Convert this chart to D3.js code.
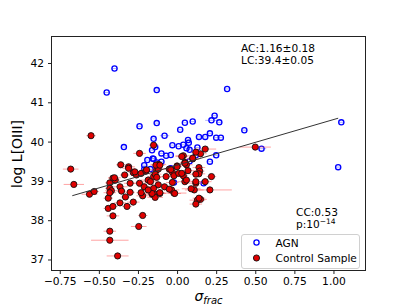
<!DOCTYPE html>
<html>
<head>
<meta charset="utf-8">
<script src="https://cdn.jsdelivr.net/npm/d3@7"></script>
<style>
body { margin: 0; background: #fff; }
text { font-family: "DejaVu Sans", sans-serif; }
</style>
</head>
<body>
<svg id="chart" width="407" height="305"></svg>
<script>
const svg = d3.select("#chart");

// AGN sample
const agnX = [-0.40, -0.45, -0.13, 0.32, -0.24, -0.13, 0.05, 0.10, 0.24, 0.22,
    0.27, 0.43, 1.05, 0.02, -0.08, -0.15, 0.07, 0.075, 0.14, 0.18,
    0.21, 0.25, 0.28, -0.34, -0.03, 0.01, 0.04, 0.06, 0.08, 0.13,
    -0.14, -0.16, -0.155, -0.10, -0.07, -0.04, -0.13, -0.10, 0.08, 0.12,
    0.21, 0.25, 0.17, -0.02, -0.31, -0.21, -0.19, -0.15, -0.21, -0.17,
    -0.04, 0.54, 1.03];
const agnY = [41.86, 41.25, 41.31, 41.34, 40.39, 40.47, 40.48, 40.51, 40.66, 40.54,
    40.49, 40.29, 40.49, 40.30, 40.15, 40.07, 40.04, 39.97, 40.12, 40.12,
    40.21, 40.10, 40.10, 39.86, 39.91, 39.88, 39.92, 39.83, 39.79, 39.85,
    39.86, 39.78, 39.57, 39.70, 39.64, 39.66, 39.47, 39.49, 39.50, 39.65,
    39.49, 39.65, 38.94, 38.96, 39.34, 39.40, 39.53, 39.56, 39.29, 39.30,
    39.32, 39.82, 39.35];
const agnErr = [0.02, 0.02, 0.02, 0.02, 0.02, 0.02, 0.02, 0.02, 0.02, 0.04,
    0.02, 0.02, 0.02, 0.02, 0.03, 0.02, 0.02, 0.02, 0.02, 0.02,
    0.02, 0.02, 0.02, 0.02, 0.02, 0.02, 0.02, 0.02, 0.02, 0.02,
    0.02, 0.02, 0.02, 0.02, 0.02, 0.02, 0.02, 0.02, 0.02, 0.02,
    0.02, 0.02, 0.02, 0.02, 0.02, 0.02, 0.02, 0.02, 0.02, 0.02,
    0.02, 0.03, 0.02];

// control sample
const ctrlX = [-0.55, -0.24, -0.15, -0.68, -0.66, -0.36, -0.31, -0.56, -0.53, -0.44,
    -0.43, -0.41, -0.43, -0.42, -0.395, -0.365, -0.355, -0.335, -0.30, -0.28,
    -0.26, -0.23, -0.20, -0.185, -0.15, -0.13, -0.12, -0.24, -0.30, -0.43,
    -0.44, -0.41, -0.365, -0.32, -0.33, -0.28, -0.41, -0.22, -0.245, -0.43,
    -0.43, -0.38, -0.22, -0.23, -0.16, -0.14, -0.14, -0.11, -0.02, 0.11,
    0.21, 0.15, 0.13, 0.12, 0.18, 0.15, 0.12, 0.10, 0.04, 0.05,
    0.06, 0.00, -0.05, -0.03, -0.02, -0.12, -0.14, -0.13, -0.07, -0.03,
    0.04, 0.07, 0.14, 0.145, 0.14, 0.22, 0.05, 0.12, -0.12, -0.15,
    -0.16, -0.11, -0.035, -0.015, 0.09, 0.14, 0.50, -0.27, -0.195, -0.17,
    -0.21, -0.185, -0.08, -0.05, -0.04, 0.01, 0.03, 0.05, 0.03, 0.10,
    0.12, 0.06, 0.12, 0.18, 0.00, -0.31, -0.135, -0.11, -0.40];
const ctrlY = [40.15, 39.70, 39.91, 39.30, 38.91, 39.41, 39.36, 38.66, 38.73, 38.56,
    38.95, 39.07, 38.81, 38.75, 39.02, 38.85, 38.74, 39.15, 38.94, 39.21,
    39.15, 39.19, 39.25, 39.02, 39.11, 39.28, 39.42, 38.94, 38.71, 38.70,
    38.30, 38.35, 38.44, 38.35, 38.59, 38.46, 38.11, 38.12, 37.84, 37.72,
    37.49, 37.09, 38.62, 38.70, 38.66, 38.66, 38.58, 38.68, 38.69, 38.77,
    38.77, 38.53, 38.51, 38.41, 39.81, 39.69, 39.73, 39.56, 39.64, 39.47,
    39.41, 39.38, 39.30, 39.22, 39.13, 39.30, 39.17, 39.09, 39.11, 38.96,
    39.13, 39.26, 39.34, 39.25, 39.18, 39.11, 38.98, 38.94, 38.90, 38.81,
    38.68, 38.70, 38.77, 38.68, 38.80, 38.56, 39.86, 39.23, 39.28, 38.98,
    38.85, 38.77, 38.85, 38.79, 39.29, 39.19, 39.19, 39.45, 39.62, 39.58,
    39.17, 39.02, 38.98, 38.98, 39.36, 39.32, 39.40, 39.40, 39.08];
const ctrlErr = [0.03, 0.04, 0.03, 0.05, 0.065, 0.03, 0.04, 0.05, 0.03, 0.03,
    0.03, 0.03, 0.03, 0.04, 0.03, 0.05, 0.03, 0.03, 0.04, 0.03,
    0.03, 0.04, 0.03, 0.05, 0.04, 0.03, 0.05, 0.04, 0.03, 0.04,
    0.03, 0.03, 0.04, 0.03, 0.03, 0.04, 0.04, 0.03, 0.05, 0.04,
    0.12, 0.07, 0.04, 0.03, 0.04, 0.03, 0.05, 0.04, 0.08, 0.06,
    0.14, 0.04, 0.05, 0.04, 0.07, 0.04, 0.03, 0.04, 0.05, 0.03,
    0.04, 0.03, 0.05, 0.04, 0.03, 0.03, 0.04, 0.03, 0.05, 0.04,
    0.03, 0.05, 0.04, 0.03, 0.04, 0.03, 0.05, 0.06, 0.04, 0.03,
    0.04, 0.03, 0.05, 0.04, 0.06, 0.04, 0.10, 0.03, 0.04, 0.05,
    0.04, 0.03, 0.04, 0.03, 0.03, 0.05, 0.04, 0.03, 0.04, 0.03,
    0.04, 0.03, 0.03, 0.04, 0.03, 0.04, 0.03, 0.03, 0.04];

const xTicks = [-0.75, -0.50, -0.25, 0.00, 0.25, 0.50, 0.75, 1.00];
const yTicks = [37, 38, 39, 40, 41, 42];

// linear fit: y = LC + AC * x
const fitAC = 1.16, fitLC = 39.4;
const fitXRange = [-0.67, 1.03];

const pLeft = 51, pRight = 366, pTop = 36, pBottom = 271;

const x = d3.scaleLinear().domain([-0.806, 1.208]).range([pLeft, pRight]);
const y = d3.scaleLinear().domain([36.707, 42.687]).range([pBottom, pTop]);

const agn = agnX.map((d, i) => ({x: d, y: agnY[i], e: agnErr[i]}));
const ctrl = ctrlX.map((d, i) => ({x: d, y: ctrlY[i], e: ctrlErr[i]}));

const plot = svg.append("g");

// AGN
plot.selectAll("line.agnErr")
    .data(agn)
    .enter().append("line")
    .attr("x1", d => x(d.x - d.e))
    .attr("x2", d => x(d.x + d.e))
    .attr("y1", d => y(d.y))
    .attr("y2", d => y(d.y))
    .attr("stroke", "rgba(80,80,255,0.45)")
    .attr("stroke-width", 1);

plot.selectAll("circle.agn")
    .data(agn)
    .enter().append("circle")
    .attr("cx", d => x(d.x))
    .attr("cy", d => y(d.y))
    .attr("r", 2.6)
    .attr("fill", "none")
    .attr("stroke", "#0000ff")
    .attr("stroke-width", 1.3);

// control sample
plot.selectAll("line.ctrlErr")
    .data(ctrl)
    .enter().append("line")
    .attr("x1", d => x(d.x - d.e))
    .attr("x2", d => x(d.x + d.e))
    .attr("y1", d => y(d.y))
    .attr("y2", d => y(d.y))
    .attr("stroke", "rgba(255,90,90,0.55)")
    .attr("stroke-width", 1);

plot.selectAll("circle.ctrl")
    .data(ctrl)
    .enter().append("circle")
    .attr("cx", d => x(d.x))
    .attr("cy", d => y(d.y))
    .attr("r", 3.1)
    .attr("fill", "#e00000")
    .attr("stroke", "#111")
    .attr("stroke-width", 0.9);

// fit line
plot.append("line")
    .attr("x1", x(fitXRange[0]))
    .attr("y1", y(fitLC + fitAC * fitXRange[0]))
    .attr("x2", x(fitXRange[1]))
    .attr("y2", y(fitLC + fitAC * fitXRange[1]))
    .attr("stroke", "#333")
    .attr("stroke-width", 1);

// frame
svg.append("rect")
    .attr("x", pLeft + 0.5).attr("y", pTop + 0.5)
    .attr("width", pRight - pLeft - 1).attr("height", pBottom - pTop - 1)
    .attr("fill", "none").attr("stroke", "#222").attr("stroke-width", 1);

// axes
const xAxis = svg.append("g")
    .attr("transform", `translate(0,${pBottom - 0.5})`)
    .call(d3.axisBottom(x).tickValues(xTicks).tickFormat(d3.format(".2f")).tickSize(3.5).tickPadding(3.5));
const yAxis = svg.append("g")
    .attr("transform", `translate(${pLeft + 0.5},0)`)
    .call(d3.axisLeft(y).tickValues(yTicks).tickFormat(d3.format("d")).tickSize(3.5).tickPadding(4));
[xAxis, yAxis].forEach(a => {
    a.select(".domain").remove();
    a.selectAll("text").attr("font-family", "DejaVu Sans").attr("font-size", 10.7).attr("fill", "#000");
    a.selectAll("line").attr("stroke", "#222");
});

// axis labels
svg.append("text")
    .attr("transform", "translate(22,154) rotate(-90)")
    .attr("text-anchor", "middle")
    .attr("font-size", 14)
    .text("log L[OIII]");

const xl = svg.append("text")
    .attr("x", (pLeft + pRight) / 2)
    .attr("y", 301)
    .attr("text-anchor", "middle")
    .attr("font-size", 14)
    .attr("font-style", "italic");
xl.append("tspan").text("σ");
xl.append("tspan").attr("font-size", 10).attr("dy", 3).text("frac");

// annotations
const note = svg.append("g").attr("font-size", 10.6);
note.append("text").attr("x", 241).attr("y", 52).text("AC:1.16±0.18");
note.append("text").attr("x", 241).attr("y", 63.5).text("LC:39.4±0.05");
note.append("text").attr("x", 296).attr("y", 215.5).text("CC:0.53");
const pt = note.append("text").attr("x", 296).attr("y", 228);
pt.append("tspan").text("p:10");
pt.append("tspan").attr("font-size", 7.5).attr("dy", -4).text("−14");

// legend
const lg = svg.append("g");
lg.append("rect")
    .attr("x", 241.5).attr("y", 234.5)
    .attr("width", 118).attr("height", 34)
    .attr("rx", 2.5)
    .attr("fill", "#fff").attr("fill-opacity", 0.8)
    .attr("stroke", "#d0d0d0").attr("stroke-width", 1);
lg.append("circle")
    .attr("cx", 256.5).attr("cy", 242.5).attr("r", 2.6)
    .attr("fill", "none").attr("stroke", "#0000ff").attr("stroke-width", 1.3);
lg.append("circle")
    .attr("cx", 256.5).attr("cy", 258).attr("r", 3.1)
    .attr("fill", "#e00000").attr("stroke", "#111").attr("stroke-width", 0.9);
lg.append("text").attr("x", 275.5).attr("y", 246.5).attr("font-size", 10.6).text("AGN");
lg.append("text").attr("x", 275.5).attr("y", 262).attr("font-size", 10.6).text("Control Sample");
</script>
</body>
</html>
